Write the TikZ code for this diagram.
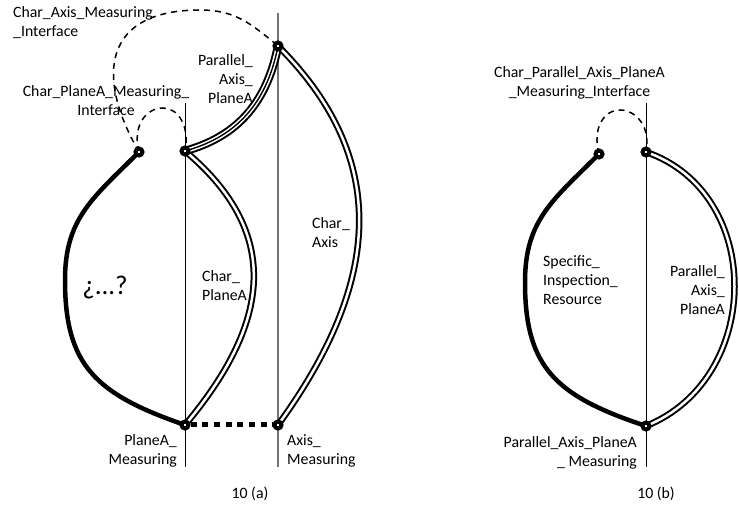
\documentclass[tikz,border=0pt]{standalone}
\usepackage{fontspec}
\setmainfont{Carlito}
\begin{document}
\begin{tikzpicture}[x=1pt,y=1pt,
  lbl/.style={inner sep=0pt, font=\fontsize{15.8}{19}\selectfont},
  big/.style={inner sep=0pt, font=\fontsize{27}{30}\selectfont},
  dot/.style={circle, draw=black, line width=4pt, fill=white, minimum size=7pt, inner sep=0pt},
  thickarc/.style={line width=4.5pt},
  dbl/.style={double, line width=2pt, double distance=2.5pt},
  trpl/.style={line width=1.4pt, preaction={draw, line width=8.5pt}, preaction={draw, white, line width=4.5pt}},
  dsh/.style={line width=1.5pt, dash pattern=on 6pt off 5pt},
  sq/.style={line width=5pt, dash pattern=on 6pt off 5.7pt},
  vl/.style={line width=1pt},
  gvl/.style={line width=1.2pt, black!55}
]
\useasboundingbox (0,0) rectangle (739,508);
% ---------- figure (a) ----------
\coordinate (aL) at (139,356);
\coordinate (aM) at (185,357);
\coordinate (aT) at (278,462);
\coordinate (aBL) at (185,83);
\coordinate (aBR) at (278,83);
\coordinate (aW) at (65,228);
\coordinate (aTop) at (200,498);
\coordinate (aSm) at (163,400);
\coordinate (v1t) at (185,405);
\coordinate (v1b) at (185,41);
\coordinate (v2t) at (278,495);
\coordinate (v2b) at (278,41);
\draw[vl] (v1t) -- (v1b);
\draw[gvl] (v2t) -- (v2b);
\draw[thickarc] (aL) .. controls (93,310) and (65,290) .. (aW) .. controls (65,143) and (95,114) .. (aBL);
\draw[dbl] (aM) .. controls (284.6,273.4) and (268.6,182.6) .. (aBL);
\draw[dbl] (aT) .. controls (396,344) and (376,218) .. (aBR);
\draw[trpl] (aM) .. controls (232,370) and (266,400) .. (aT);
\draw[dsh] (aL) .. controls (132,382) and (146,400) .. (aSm) .. controls (178,400) and (190,382) .. (aM);
\draw[dsh] (aL) .. controls (94,434) and (105,498) .. (aTop) .. controls (235,498) and (251,484.5) .. (aT);
\node[dot] (dL) at (aL) {};
\node[dot] (dM) at (aM) {};
\node[dot] (dT) at (aT) {};
\node[dot] (dBL) at (aBL) {};
\node[dot] (dBR) at (aBR) {};
\draw[sq] (dBL) -- (dBR);
\node[lbl, anchor=west, align=left] (t1) at (13,485.5) {Char\_Axis\_Measuring\\\_Interface};
\node[lbl, align=center] (t2) at (106,407) {Char\_PlaneA\_Measuring\_\\Interface};
\node[lbl, anchor=east, align=right] (t3) at (253,429) {Parallel\_\\Axis\_\\PlaneA};
\node[lbl, anchor=west, align=left] (t4) at (202,222) {Char\_\\PlaneA};
\node[lbl, anchor=west, align=left] (t5) at (312,275.5) {Char\_\\Axis};
\node[big] (t6) at (105,220) {¿...?};
\node[lbl, anchor=east, align=right] (t7) at (177,57) {PlaneA\_\\Measuring};
\node[lbl, anchor=west, align=left] (t8) at (287,57) {Axis\_\\Measuring};
\node[lbl] (t9) at (250,14) {10 (a)};
% ---------- figure (b) ----------
\coordinate (bL) at (599,354);
\coordinate (bR) at (646,356);
\coordinate (bB) at (646,82);
\coordinate (bW) at (525,226);
\coordinate (bSm) at (620,398);
\coordinate (v3t) at (646,405);
\coordinate (v3b) at (646,41);
\draw[vl] (v3t) -- (v3b);
\draw[thickarc] (bL) .. controls (553,308) and (525,288) .. (bW) .. controls (525,141) and (555,112) .. (bB);
\draw[dbl] (bR) .. controls (765,315) and (763,129) .. (bB);
\draw[dsh] (bL) .. controls (592,380) and (604,398) .. (bSm) .. controls (636,398) and (651,381) .. (bR);
\node[dot] (eL) at (bL) {};
\node[dot] (eR) at (bR) {};
\node[dot] (eB) at (bB) {};
\node[lbl, align=center] (u1) at (579.5,425) {Char\_Parallel\_Axis\_PlaneA\\\_Measuring\_Interface};
\node[lbl, anchor=west, align=left] (u2) at (543,228) {Specific\_\\Inspection\_\\Resource};
\node[lbl, anchor=east, align=right] (u3) at (725,218) {Parallel\_\\Axis\_\\PlaneA};
\node[lbl, anchor=east, align=right] (u4) at (637,55) {Parallel\_Axis\_PlaneA\\\_ Measuring};
\node[lbl] (u5) at (656,14) {10 (b)};
\end{tikzpicture}
\end{document}
